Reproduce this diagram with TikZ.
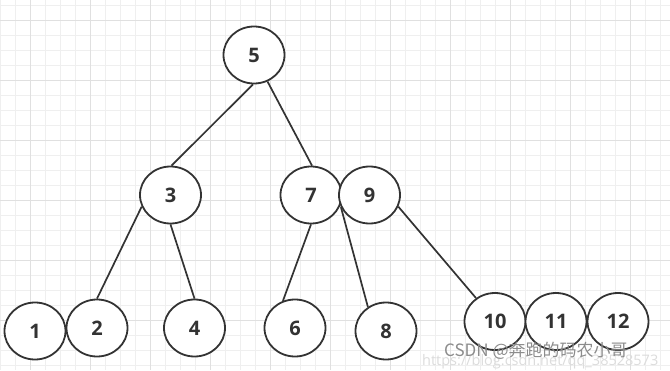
\documentclass[tikz,border=0pt]{standalone}
\usepackage{fontspec}
\setmainfont{Open Sans}
\newfontfamily\cjkfont{Noto Sans CJK SC}
\usetikzlibrary{shapes.geometric}
\definecolor{ink}{HTML}{333333}
\definecolor{gridminor}{HTML}{EFEFEF}
\definecolor{gridmajor}{HTML}{E0E0E0}
\definecolor{wm}{HTML}{8C8C8C}
\definecolor{wmfaint}{HTML}{DCDCDC}
\tikzset{
  treenode/.style={ellipse, draw=ink, line width=1.8pt, fill=white,
    minimum width=61pt, minimum height=57pt, inner sep=0pt,
    font=\bfseries\fontsize{20}{22}\selectfont, text=ink},
  edge/.style={draw=ink, line width=1.7pt},
}
\begin{document}
\begin{tikzpicture}[x=1pt,y=1pt]
\useasboundingbox (0,0) rectangle (670,-370);
\fill[white] (0,0) rectangle (670,-370);
% grid
\foreach \gx in {0,15,...,670} \draw[gridminor, line width=0.9pt] (\gx,0) -- (\gx,-370);
\foreach \gy in {5,20,...,370} \draw[gridminor, line width=0.9pt] (0,-\gy) -- (670,-\gy);
\foreach \gx in {30,90,...,670} \draw[gridmajor, line width=1pt] (\gx,0) -- (\gx,-370);
\foreach \gy in {20,80,...,370} \draw[gridmajor, line width=1pt] (0,-\gy) -- (670,-\gy);

% nodes
\node[treenode] (n5) at (254,-55) {5};
\node[treenode] (n3) at (170.5,-195) {3};
\node[treenode] (n7) at (311,-195) {7};
\node[treenode] (n9) at (369.5,-195) {9};
\node[treenode] (n1) at (35,-331) {1};
\node[treenode] (n2) at (97,-328) {2};
\node[treenode] (n4) at (194.5,-328) {4};
\node[treenode] (n6) at (295,-328) {6};
\node[treenode] (n8) at (386,-331) {8};
\node[treenode] (n10) at (495,-321.5) {10};
\node[treenode] (n11) at (556,-321.5) {11};
\node[treenode] (n12) at (618,-321.5) {12};

% edges
\path[edge] (n5.-92) -- (n3.88);
\path[edge] (n5.-63) -- (n7.88);
\path[edge] (n3.202) -- (n2.north);
\path[edge] (n3.south) -- (n4.north);
\path[edge] (n7.south) -- (n6.114);
\path[edge] (n9.203) -- (n8.127);
\path[edge] (n9.-22) -- (n10.129);

% watermark
\node[anchor=west, text=wmfaint, font=\fontsize{14.5}{16}\selectfont, inner sep=0pt] (url) at (422,-362) {https://blog.csdn.net/qq\_38528573};
\node[anchor=west, text=wm, font=\cjkfont\fontsize{17}{18}\selectfont, inner sep=0pt] (wmk) at (444,-351) {CSDN @奔跑的码农小哥};
\end{tikzpicture}
\end{document}
